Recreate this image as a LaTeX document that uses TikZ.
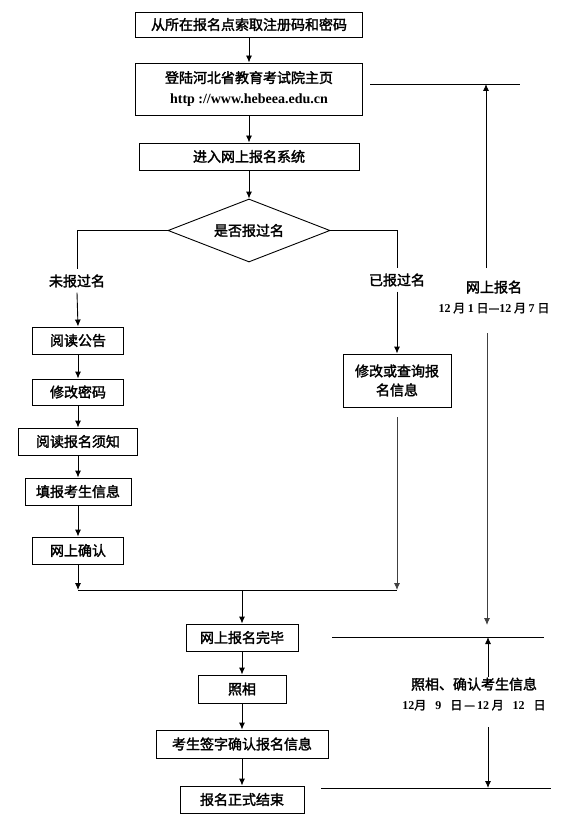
\documentclass[tikz,border=0pt]{standalone}
\usepackage{fontspec}
\setmainfont{Noto Sans CJK SC}[AutoFakeBold=2]
\newfontfamily\latinfont{Liberation Serif}
\usetikzlibrary{arrows.meta, shapes.geometric, calc}
\newcommand{\latn}[1]{{\latinfont\bfseries #1}}
\newcommand{\wsp}{\hspace{9pt}}
\tikzset{
    my-box/.style={
        draw, rectangle, inner sep=0pt, align=center, line width=0.9pt,
        font=\fontsize{14}{20}\selectfont\bfseries
    },
    my-decision/.style={
        draw, diamond, aspect=2.6, inner sep=0pt, line width=0.9pt,
        minimum width=162pt, minimum height=63pt,
        font=\fontsize{14}{20}\selectfont\bfseries
    },
    my-label/.style={
        inner sep=5pt, align=center,
        font=\fontsize{14}{20}\selectfont\bfseries
    },
    my-arrow/.style={
        -{Latex[length=7pt, width=6pt]}, line width=0.9pt
    },
    my-line/.style={
        line width=0.9pt
    },
}
\begin{document}
\begin{tikzpicture}[x=1pt, y=-1pt]
        \useasboundingbox (0,0) rectangle (578,837);

        % MAIN COLUMN
        \node[my-box, minimum width=227, minimum height=25] (GET)   at (249,24.5)  {从所在报名点索取注册码和密码};
        \node[my-box, minimum width=227, minimum height=52,
              font=\fontsize{14}{21}\selectfont\bfseries]   (LOGIN) at (249,89)    {登陆河北省教育考试院主页\\\latn{http ://www.hebeea.edu.cn}};
        \node[my-box, minimum width=220, minimum height=27] (ENTER) at (249,156.5) {进入网上报名系统};
        \node[my-decision]                                  (ASK)   at (249,230.5) {是否报过名};
        \draw[my-arrow] (GET.south)   -- (LOGIN.north);
        \draw[my-arrow] (LOGIN.south) -- (ENTER.north);
        \draw[my-arrow] (ENTER.south) -- (ASK.north);

        % BRANCH LABELS
        \node[my-label] (NOT)  at (77,281)  {未报过名};
        \node[my-label] (DONE) at (397,280) {已报过名};
        \draw[my-line] (ASK.west) -| (NOT.north);
        \draw[my-line] (ASK.east) -| (DONE.north);

        % NEW REGISTRATION STEPS
        \node[my-box, minimum width=91,  minimum height=27] (READ)    at (78,340.5) {阅读公告};
        \node[my-box, minimum width=91,  minimum height=26] (PWD)     at (78,392)   {修改密码};
        \node[my-box, minimum width=119, minimum height=27] (NOTICE)  at (78,441.5) {阅读报名须知};
        \node[my-box, minimum width=106, minimum height=27] (FILL)    at (78,491.5) {填报考生信息};
        \node[my-box, minimum width=91,  minimum height=27] (CONFIRM) at (78,550.5) {网上确认};
        \draw[my-arrow] (NOT.south)    -- (READ.north);
        \draw[my-arrow] (READ.south)   -- (PWD.north);
        \draw[my-arrow] (PWD.south)    -- (NOTICE.north);
        \draw[my-arrow] (NOTICE.south) -- (FILL.north);
        \draw[my-arrow] (FILL.south)   -- (CONFIRM.north);

        % EXISTING REGISTRATION
        \node[my-box, minimum width=108, minimum height=53,
              font=\fontsize{14}{19}\selectfont\bfseries] (MODIFY) at (397,380.5) {修改或查询报\\名信息};
        \coordinate (MODGAP) at ($(MODIFY.south) + (0,10)$);
        \draw[my-arrow] (DONE.south) -- (MODIFY.north);

        % MERGE LINE
        \coordinate (MERGEY) at (0,590);
        \coordinate (MERGEL) at (CONFIRM.south |- MERGEY);
        \coordinate (MERGER) at (MODIFY.south |- MERGEY);
        \coordinate (MERGEM) at (242,590);
        \draw[my-arrow] (CONFIRM.south) -- (MERGEL);
        \draw[my-arrow, draw=black!75] (MODGAP) -- (MERGER);
        \draw[my-line] (MERGEL) -- (MERGER);

        % FINAL STEPS
        \node[my-box, minimum width=112, minimum height=27] (FINISH) at (242,637.5) {网上报名完毕};
        \node[my-box, minimum width=88,  minimum height=28] (PHOTO)  at (242,689)   {照相};
        \node[my-box, minimum width=172, minimum height=28] (SIGN)   at (242,744)   {考生签字确认报名信息};
        \node[my-box, minimum width=124, minimum height=27] (END)    at (242,799.5) {报名正式结束};
        \draw[my-arrow] (MERGEM)       -- (FINISH.north);
        \draw[my-arrow] (FINISH.south) -- (PHOTO.north);
        \draw[my-arrow] (PHOTO.south)  -- (SIGN.north);
        \draw[my-arrow] (SIGN.south)   -- (END.north);

        % TIME LINES
        \coordinate (T1L) at (370,84);
        \coordinate (T1R) at (520,84);
        \coordinate (T2L) at (332,637);
        \coordinate (T2R) at (544,637);
        \coordinate (T3L) at (321,788);
        \coordinate (T3R) at (551,788);
        \draw[my-line] (T1L) -- (T1R);
        \draw[my-line] (T2L) -- (T2R);
        \draw[my-line] (T3L) -- (T3R);

        % PERIOD LABELS
        \node[my-label, inner sep=0pt] (ONLINE) at (494,297)
            {网上报名\\{\fontsize{12}{20}\selectfont\latn{12} 月 \latn{1} 日—\latn{12} 月 \latn{7} 日}};
        \node[my-label, inner sep=0pt] (CHECK)  at (474,694)
            {照相、确认考生信息\\{\fontsize{12}{20}\selectfont\latn{12}月\wsp\latn{9}\wsp 日\,—\,\latn{12} 月\wsp\latn{12}\wsp 日}};

        % PERIOD ARROWS
        \coordinate (UP1)    at (486,268);
        \coordinate (DOWN1)  at (487,333);
        \coordinate (DOWN1E) at (487,625);
        \coordinate (UP2)    at (488,677);
        \coordinate (DOWN2)  at (488,727);
        \draw[my-arrow] (UP1) -- (UP1 |- T1L);
        \draw[my-arrow, draw=black!75] (DOWN1) -- (DOWN1E);
        \draw[my-arrow] (UP2) -- (UP2 |- T2L);
        \draw[my-arrow] (DOWN2) -- (DOWN2 |- T3L);

    \end{tikzpicture}
\end{document}
